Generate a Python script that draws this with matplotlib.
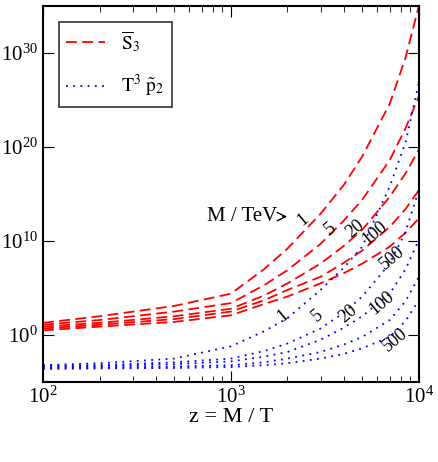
import numpy as np
import matplotlib
matplotlib.use('Agg')
import matplotlib.pyplot as plt

plt.rcParams['font.family'] = ['Liberation Serif', 'DejaVu Serif']
plt.rcParams['mathtext.fontset'] = 'stix'

z = [100, 200, 500, 1000, 1500, 2000, 3000, 4000, 5000, 7000, 8500, 10000]
masses = ['1', '5', '20', '100', '500']

# log10 values
s3_log = [
    [1.3, 2.0, 3.1, 4.4, 7.0, 9.2, 12.9, 16.0, 19.0, 24.6, 29.5, 35.0],
    [1.1, 1.6, 2.5, 3.4, 5.3, 6.9, 9.7, 12.2, 14.4, 18.6, 22.0, 25.4],
    [0.9, 1.3, 2.0, 2.8, 4.2, 5.5, 7.6, 9.5, 11.2, 14.7, 17.2, 19.7],
    [0.7, 1.1, 1.7, 2.5, 3.7, 4.8, 6.2, 7.7, 9.0, 11.5, 13.4, 15.4],
    [0.5, 0.9, 1.4, 2.1, 3.3, 4.1, 5.5, 6.6, 7.6, 9.4, 10.9, 12.4],
]
p2_log = [
    [-3.2, -3.0, -2.5, -1.2, 0.4, 1.8, 4.8, 7.2, 9.4, 15.8, 20.5, 26.8],
    [-3.3, -3.2, -2.9, -2.5, -1.7, -0.9, 0.7, 2.4, 4.1, 7.6, 11.0, 15.4],
    [-3.4, -3.3, -3.1, -2.8, -2.3, -1.8, -0.5, 0.8, 2.0, 4.4, 7.0, 10.1],
    [-3.5, -3.45, -3.35, -3.2, -2.9, -2.5, -1.8, -1.0, -0.2, 1.6, 3.6, 6.2],
    [-3.6, -3.55, -3.5, -3.4, -3.2, -3.0, -2.5, -2.0, -1.4, -0.2, 1.5, 3.7],
]
s3_label_pos = [(2415, 12.3), (3367, 11.3), (4570, 11.3), (5830, 10.9), (7180, 8.2)]
p2_label_pos = [(1905, 2.1), (2900, 2.1), (4190, 2.3), (6350, 3.4), (7450, -0.5)]

fig = plt.figure(figsize=(4.39, 4.62), dpi=100)
ax = fig.add_axes([0.098, 0.173, 0.856, 0.814])

for i, ys in enumerate(s3_log):
    ax.plot(z, 10.0 ** np.array(ys), color='red', ls=(0, (6, 3)), lw=1.3,
            label=r'$\overline{\mathrm{S}}_3$' if i == 0 else None)
for i, ys in enumerate(p2_log):
    ax.plot(z, 10.0 ** np.array(ys), color='blue', ls=(0, (1, 3)), lw=1.3,
            label=r'$\mathrm{T}^3\ \tilde{\mathrm{p}}_2$' if i == 0 else None)

for m, (x, y) in zip(masses, s3_label_pos):
    ax.text(x, 10.0 ** y, m, fontsize=13, rotation=40, ha='center', va='center')
for m, (x, y) in zip(masses, p2_label_pos):
    ax.text(x, 10.0 ** y, m, fontsize=13, rotation=40, ha='center', va='center')

ax.annotate('M / TeV', xy=(2060, 10.0 ** 12.6), xytext=(745, 10.0 ** 12.6),
            fontsize=15, va='center',
            arrowprops=dict(arrowstyle='->', color='black', lw=1))

ax.set_xscale('log')
ax.set_yscale('log')
ax.set_xlim(100, 1e4)
ax.set_ylim(1e-5, 1e35)
ax.set_yticks([1e0, 1e10, 1e20, 1e30])
ax.yaxis.set_minor_locator(matplotlib.ticker.NullLocator())
ax.tick_params(which='both', direction='in', top=True, right=True, labelsize=15)
ax.tick_params(which='major', length=8)
ax.tick_params(which='minor', length=4)
ax.set_xlabel('z = M / T', fontsize=16, labelpad=0)
for s in ax.spines.values():
    s.set_linewidth(1.5)

leg = ax.legend(loc='upper left', fontsize=14, fancybox=False, edgecolor='black',
                handlelength=2.0, borderaxespad=0.8, labelspacing=1.0)
leg.get_frame().set_linewidth(1.2)

fig.savefig('out.png', dpi=100)
